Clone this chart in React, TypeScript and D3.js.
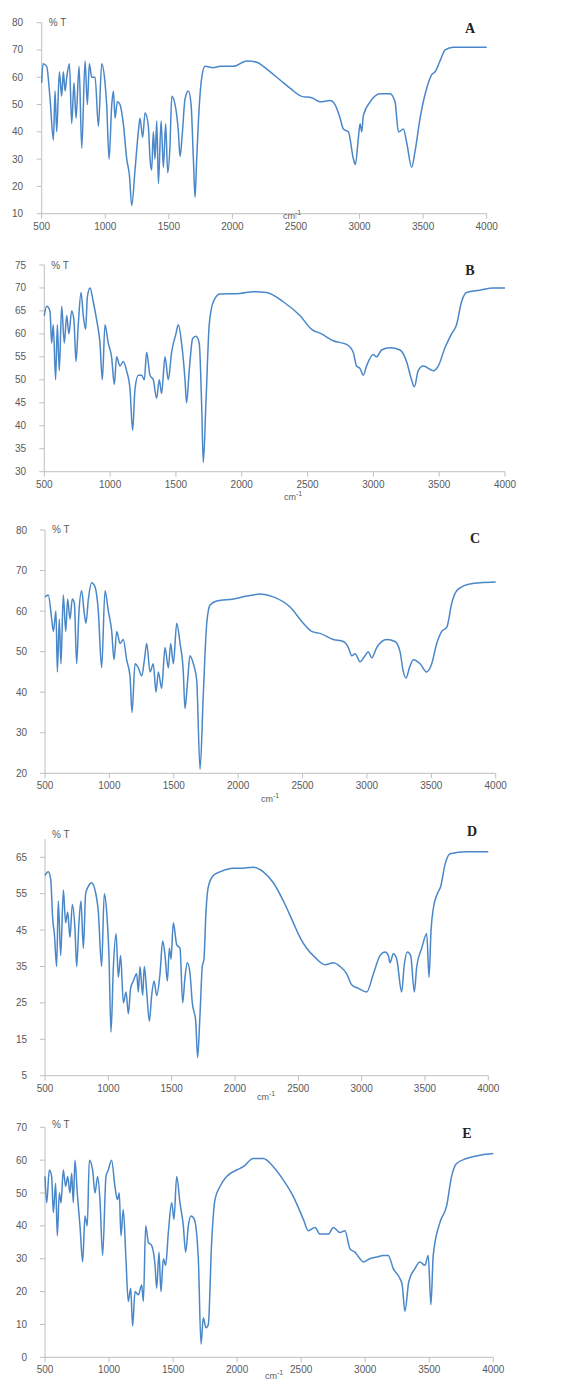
import React from "react";
import * as d3 from "d3";

// ---------- DATA ----------
const xTicks = [500, 1000, 1500, 2000, 2500, 3000, 3500, 4000];

const A_WN = [500,510,539,566,592,605,618,639,657,670,684,697,718,736,754,770,794,815,841,859,875,893,920,946,972,998,1011,1030,1051,1064,1077,1095,1116,1142,1169,1190,1208,1234,1260,1273,1294,1313,1339,1352,1365,1378,1391,1405,1418,1439,1457,1475,1491,1509,1523,1549,1575,1588,1607,1627,1654,1675,1693,1706,1719,1740,1759,1785,1850,1903,2008,2113,2191,2270,2375,2453,2545,2624,2689,2768,2807,2847,2873,2912,2952,2967,2991,3004,3017,3030,3083,3161,3240,3279,3306,3345,3371,3410,3437,3476,3528,3568,3594,3633,3673,3738,4000];
const A_T = [58,65,64,52,37,55,40,62,53,62,55,60,65,43,58,45,64,34,66,50,65,60,60,42,65,58,50,30,50,55,45,51,50,43,30,24,13,26,40,45,38,47,42,30,26,40,30,44,21,44,27,43,25,35,53,50,40,31,40,52,55,50,30,16,30,50,60,64,63.5,64,64,66,65.5,63,59,56,53,52.5,51,51.5,50,45,41,40,30,28,38,43,40,46,51,54,54,51,40,41,36,27,33,45,56,61,62,66,70,71,71];
const A_YTICKS = [10,20,30,40,50,60,70,80];

const B_WN = [500,518,543,556,568,586,599,614,632,652,670,687,708,725,741,758,779,796,814,827,847,872,898,923,941,961,986,1011,1032,1049,1075,1100,1125,1151,1171,1189,1214,1239,1260,1277,1303,1328,1353,1374,1391,1417,1442,1467,1500,1518,1543,1569,1581,1601,1627,1652,1677,1695,1708,1728,1753,1784,1834,1986,2088,2189,2315,2442,2531,2607,2695,2797,2847,2872,2898,2923,2948,2999,3024,3062,3126,3202,3252,3290,3311,3341,3379,3455,3493,3544,3594,3632,3670,3708,3809,3911,4000];
const B_T = [64,66,65,58,62,50,62,52,66,58,64,60,65,63,54,62,69,64,61,68,70,67,63,58,50,62,58,55,49,55,53,54,52,48,39,48,51,51,50,56,51,50,46,50,47,55,50,56,60,62,58,50,45,52,59,59.5,58,45,32,45,62,67,68.7,68.8,69.2,69,67,64,61,60,58.5,57.7,56,53,52.5,51,53,55.5,55,56.5,57,56.5,54,50,48.5,52,53,52,53,57,60,62,67,69,69.5,70,70];
const B_YTICKS = [30,35,40,45,50,55,60,65,70,75];

const C_WN = [500,526,552,565,585,596,611,624,642,661,676,694,712,728,746,764,785,803,818,837,862,888,914,940,966,992,1018,1036,1057,1083,1108,1134,1160,1176,1199,1225,1251,1272,1290,1316,1341,1362,1380,1406,1432,1458,1476,1497,1523,1549,1574,1587,1608,1626,1652,1678,1704,1730,1756,1782,1833,1963,2066,2170,2273,2403,2506,2571,2636,2739,2817,2856,2882,2908,2947,2985,3011,3037,3076,3154,3218,3257,3283,3304,3330,3361,3413,3464,3503,3542,3581,3620,3659,3697,3775,3879,4000];
const C_T = [63.5,64,58,55,60,45,58,47,64,55,63,58,63,62,47,60,65,60,57,63,67,66,60,46,65,60,55,48,55,52,53,48,44,35,47,46,44,48,52,45,47,40,45,41,51,46,52,47,57,52,45,36,43,49,47,43,21,40,57,61.5,62.5,63,63.7,64.2,63.5,61,57,55,54.5,53,52.5,51,49,49.5,47.5,49,50,48.5,51,53,52.5,50,45,43.5,46,48,47,45,47,52,55,56,62,65,66.5,67,67.2];
const C_YTICKS = [20,30,40,50,60,70,80];

const D_WN = [500,526,545,561,574,592,605,624,645,663,679,697,716,737,750,768,784,803,821,842,868,895,921,947,968,987,1005,1021,1040,1061,1079,1097,1119,1140,1158,1176,1197,1224,1237,1250,1271,1284,1303,1324,1342,1361,1382,1408,1429,1448,1466,1482,1495,1513,1540,1566,1587,1605,1624,1645,1663,1690,1705,1724,1742,1755,1771,1790,1829,1882,1987,2040,2145,2224,2303,2382,2461,2513,2566,2632,2711,2777,2829,2882,2921,2974,3040,3093,3145,3185,3211,3224,3250,3277,3316,3335,3361,3387,3416,3435,3474,3514,3532,3548,3566,3598,3624,3658,3698,3829,4000];
const D_T = [60,61,59,48,44,35,53,38,56,47,50,43,52,45,35,47,53,40,55,57,58,56,50,35,55,50,38,17,35,44,32,38,25,28,22,29,31,33,28,35,27,35,28,20,27,31,27,33,42,38,31,40,37,47,41,40,25,32,36,33,25,20,10,22,35,37,50,57,60,61,62,62,62.3,61,58,53,47,43,40,37.5,35.5,36,35,33,30,29,28,33,38,39,38,36,38.5,37,28,35,39,38,28,35,40,44,32,45,51,55,57,63,66,66.5,66.5];
const D_YTICKS = [5,15,25,35,45,55,65];

const E_WN = [500,513,534,552,565,583,596,612,625,643,661,677,695,708,721,734,752,773,794,812,830,846,872,890,911,929,950,976,994,1020,1046,1065,1080,1093,1111,1132,1150,1169,1184,1203,1229,1255,1268,1286,1307,1333,1359,1372,1390,1405,1424,1442,1463,1489,1507,1528,1554,1580,1598,1619,1640,1666,1697,1718,1736,1757,1775,1801,1827,1866,1918,1996,2048,2126,2204,2282,2360,2438,2517,2556,2608,2647,2712,2751,2803,2842,2881,2920,2959,2985,3037,3089,3141,3180,3219,3271,3289,3310,3340,3388,3427,3466,3492,3513,3531,3583,3635,3674,3713,3791,3895,4000];
const E_T = [55,47,57,55,44,53,37,50,47,57,52,55,50,56,47,60,50,40,29,43,40,60,57,50,55,48,31,55,57,60,52,48,50,37,45,30,17,21,9.5,20,19,22,17,40,35,34,28,21,32,20,30,28,38,47,42,55,47,40,32,40,43,42,30,4,12,9,10,35,48,52,55,57,58,60.5,60.5,58,54,49,42,38.5,39.5,37.5,37.5,39.5,38,38.5,33,32,30,29,30,30.5,31,31,27,24,22,14,23,27,29,28,31,16,31,41,46,55,59,60.5,61.5,62];
const E_YTICKS = [0,10,20,30,40,50,60,70];

const LETTERS = ["A", "B", "C", "D", "E"];

// ---------- LAYOUT ----------
type Panel = {
  wn: number[]; t: number[]; yTicks: number[]; yDomain: [number, number];
  x0: number; x1: number; yTop: number; yBot: number;
  letterX: number; letterY: number; cmX: number; cmY: number; ptY: number; labelRight: number;
};

const panels: Panel[] = [
  { wn: A_WN, t: A_T, yTicks: A_YTICKS, yDomain: [10, 80], x0: 41.7, x1: 486.7, yTop: 22.7, yBot: 213.7, letterX: 470, letterY: 33, cmX: 292, cmY: 219, ptY: 26, labelRight: 23 },
  { wn: B_WN, t: B_T, yTicks: B_YTICKS, yDomain: [30, 75], x0: 44.3, x1: 505, yTop: 265, yBot: 471.7, letterX: 470, letterY: 275, cmX: 293, cmY: 500, ptY: 269, labelRight: 26 },
  { wn: C_WN, t: C_T, yTicks: C_YTICKS, yDomain: [20, 80], x0: 45, x1: 495.7, yTop: 530, yBot: 773.3, letterX: 475, letterY: 543, cmX: 270, cmY: 802, ptY: 533, labelRight: 27 },
  { wn: D_WN, t: D_T, yTicks: D_YTICKS, yDomain: [5, 70], x0: 45, x1: 488.3, yTop: 839.1, yBot: 1075.7, letterX: 472, letterY: 836, cmX: 266, cmY: 1100, ptY: 838, labelRight: 27 },
  { wn: E_WN, t: E_T, yTicks: E_YTICKS, yDomain: [0, 70], x0: 45, x1: 493.3, yTop: 1127.3, yBot: 1357.3, letterX: 467, letterY: 1138, cmX: 274, cmY: 1379, ptY: 1128, labelRight: 27 },
];

const AXIS = "#bfbfbf";
const TXT = "#595959";
const LINE = "#4a87c9";
const SANS = "'Liberation Sans', Arial, sans-serif";
const SERIF = "'Liberation Serif', 'Times New Roman', serif";

function PanelView({ p, letter }: { p: Panel; letter: string }) {
  const x = d3.scaleLinear().domain([500, 4000]).range([p.x0, p.x1]);
  const y = d3.scaleLinear().domain(p.yDomain).range([p.yBot, p.yTop]);
  const pts = p.wn.map((w, i) => [w, p.t[i]] as [number, number]);
  const path = d3.line<[number, number]>().x(d => x(d[0])).y(d => y(d[1])).curve(d3.curveMonotoneX)(pts) || "";
  return (
    <g>
      <line x1={p.x0} x2={p.x0} y1={p.yTop} y2={p.yBot} stroke={AXIS} strokeWidth={1} />
      <line x1={p.x0} x2={p.x1} y1={p.yBot} y2={p.yBot} stroke={AXIS} strokeWidth={1} />
      {p.yTicks.map(v => (
        <g key={"y" + v}>
          <line x1={p.x0 - 5} x2={p.x0} y1={y(v)} y2={y(v)} stroke={AXIS} />
          <text x={p.labelRight} y={y(v)} dy="0.35em" textAnchor="end" fontSize={10} fill={TXT} fontFamily={SANS}>{v}</text>
        </g>
      ))}
      {xTicks.map(v => (
        <g key={"x" + v}>
          <line x1={x(v)} x2={x(v)} y1={p.yBot} y2={p.yBot + 5} stroke={AXIS} />
          <text x={x(v)} y={p.yBot + 16} textAnchor="middle" fontSize={10} fill={TXT} fontFamily={SANS}>{v}</text>
        </g>
      ))}
      <path d={path} fill="none" stroke={LINE} strokeWidth={1.5} strokeLinejoin="round" />
      <text x={p.x0 + 7} y={p.ptY} fontSize={10} fill={TXT} fontFamily={SANS}>% T</text>
      <text x={p.cmX} y={p.cmY} textAnchor="middle" fontSize={9} fill={TXT} fontFamily={SANS}>
        cm<tspan dy="-4" fontSize={7}>-1</tspan>
      </text>
      <text x={p.letterX} y={p.letterY} textAnchor="middle" fontSize={14} fontWeight="bold" fill="#222" fontFamily={SERIF}>{letter}</text>
    </g>
  );
}

export default function App() {
  return (
    <svg width={574} height={1383} style={{ position: "absolute", left: 0, top: 0, background: "#fff" }}>
      <rect width={574} height={1383} fill="#fff" />
      {panels.map((p, i) => <PanelView key={i} p={p} letter={LETTERS[i]} />)}
    </svg>
  );
}
